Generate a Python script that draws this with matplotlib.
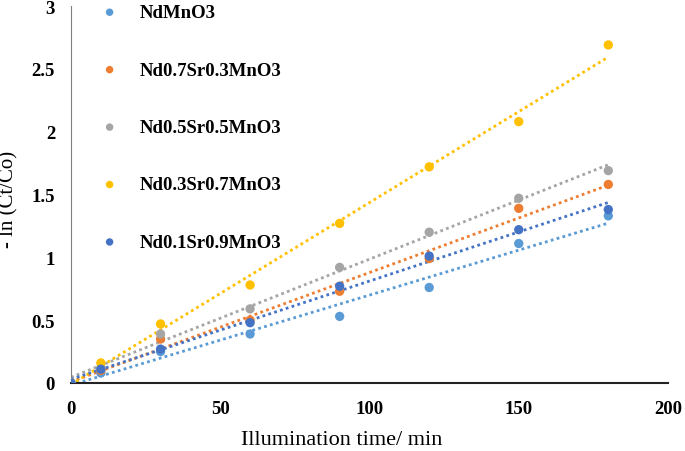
import numpy as np
import matplotlib
matplotlib.use('Agg')
import matplotlib.pyplot as plt

# illumination time (min) and -ln(Ct/Co) per sample
time = [0, 10, 30, 60, 90, 120, 150, 180]
nd = [0, 0.08, 0.25, 0.39, 0.53, 0.76, 1.11, 1.33]
sr03 = [0, 0.10, 0.35, 0.50, 0.73, 0.99, 1.39, 1.58]
sr05 = [0, 0.12, 0.39, 0.59, 0.92, 1.20, 1.47, 1.69]
sr07 = [0, 0.16, 0.47, 0.78, 1.27, 1.72, 2.08, 2.69]
sr09 = [0, 0.11, 0.27, 0.48, 0.77, 1.01, 1.22, 1.38]

labels = ['NdMnO3', 'Nd0.7Sr0.3MnO3', 'Nd0.5Sr0.5MnO3', 'Nd0.3Sr0.7MnO3', 'Nd0.1Sr0.9MnO3']
colors = ['#5B9BD5', '#ED7D31', '#A5A5A5', '#FFC000', '#4472C4']
series = [nd, sr03, sr05, sr07, sr09]

plt.rcParams['font.family'] = ['Liberation Serif', 'DejaVu Serif']

fig = plt.figure(figsize=(6.85, 4.52), dpi=100)
ax = fig.add_axes([71/685, 1-384/452, 597/685, 377/452])

t = np.array(time)
for y, c, lab in zip(series, colors, labels):
    ax.scatter(t, y, s=45, color=c, label=lab, zorder=3, edgecolors='none')
    k, b = np.polyfit(t, y, 1)
    tt = np.array([0, 180])
    ax.plot(tt, k*tt + b, linestyle=(0, (1, 1.2)), color=c, linewidth=2, zorder=2)

ax.set_xlim(0, 200)
ax.set_ylim(0, 3)
ax.set_xticks([0, 50, 100, 150, 200])
ax.set_yticks([0, 0.5, 1, 1.5, 2, 2.5, 3])
ax.set_yticklabels(['0', '0.5', '1', '1.5', '2', '2.5', '3'])
ax.tick_params(length=0, labelsize=13.5)
ax.tick_params(axis='x', pad=12)
ax.tick_params(axis='y', pad=11.5)
for lbl in ax.get_xticklabels() + ax.get_yticklabels():
    lbl.set_fontweight('bold')
ax.spines['top'].set_visible(False)
ax.spines['right'].set_visible(False)
ax.spines['left'].set_color('#808080')
ax.spines['bottom'].set_color('#222222')
ax.spines['bottom'].set_linewidth(1.5)
ax.set_xlabel('Illumination time/ min', fontsize=16, va='center')
ax.set_ylabel('- ln (Ct/Co)', fontsize=15, va='center')
ax.xaxis.set_label_coords(0.454, -0.15)
ax.yaxis.set_label_coords(-0.104, 0.49)

ax.legend(loc='upper left', bbox_to_anchor=(0.005, 1.05), frameon=False,
          prop={'weight': 'bold', 'size': 13.5}, labelspacing=2.15,
          handletextpad=0.6, markerscale=0.8)

fig.savefig('out.png', dpi=100)
